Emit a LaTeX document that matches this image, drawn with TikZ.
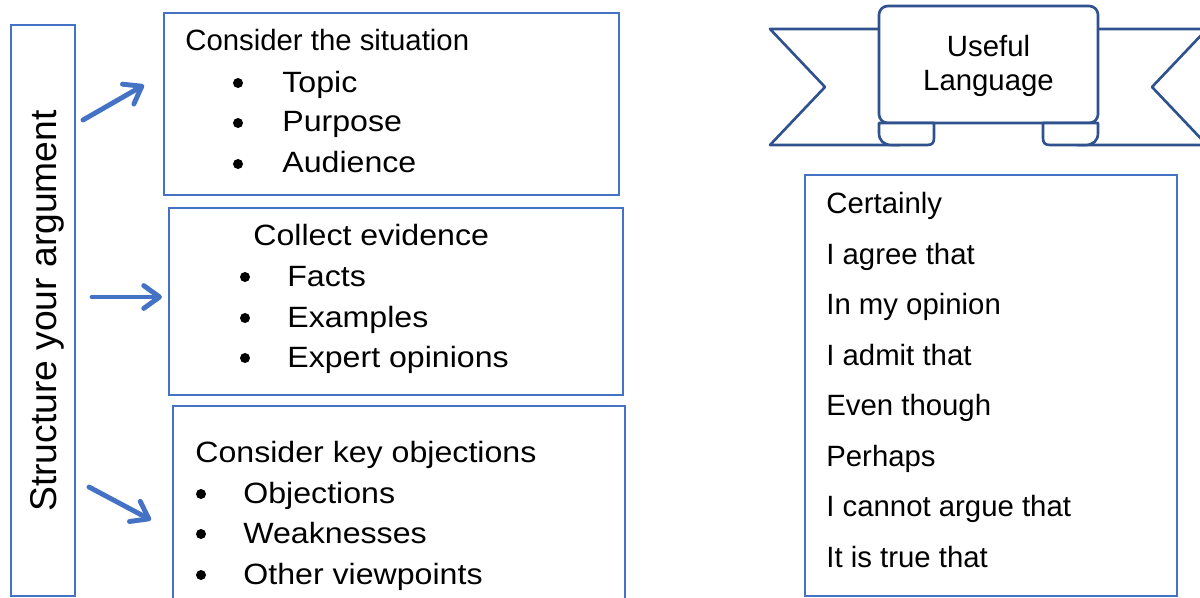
\documentclass[tikz,border=0pt]{standalone}
\usepackage{fontspec}
\setmainfont{Liberation Sans}
\newfontfamily\widesans[FakeStretch=1.095]{Liberation Sans}
\usetikzlibrary{arrows.meta,fit}
\definecolor{boxblue}{HTML}{4472C4}
\definecolor{ribbonblue}{HTML}{2F528F}
\tikzset{%
  >={Straight Barb[length=9pt,width=13pt,round]},
  % Specifications for style of nodes:
           txt/.style = {inner sep=0pt, font=\fontsize{16.7}{20}\selectfont},
      itemline/.style = {txt, anchor=base west},
      wideline/.style = {itemline, font=\widesans\fontsize{16.7}{20}\selectfont},
     bulletdot/.style = {circle, fill=black, inner sep=0pt, minimum size=0.2cm},
       listbox/.style = {rectangle, draw=boxblue, line width=0.9pt, inner sep=0pt},
        ribbon/.style = {draw=ribbonblue, line width=1.5pt, line join=round, fill=white},
       pointer/.style = {->, draw=boxblue, line width=2.8pt, line cap=round},
}

\begin{document}
\begin{tikzpicture}[x=0.02cm, y=-0.02cm]
  \useasboundingbox (0,0) rectangle (1200,598);

  % Specification of boxes (position, etc.)
  \node (leftbox)   [listbox, fit={(11,25) (75,596)}] {};
  \node (sitbox)    [listbox, fit={(164,13) (619,195)}] {};
  \node (evbox)     [listbox, fit={(169,208) (623,395)}] {};
  \node (objbox)    [listbox, fit={(173,406) (625,640)}] {};
  \node (langbox)   [listbox, fit={(805,175) (1177,596)}] {};

  \node (structure) [txt, anchor=base, rotate=90, font=\fontsize{21.2}{25}\selectfont]
                    at (56,311) {Structure your argument};

  % first box: the situation
  \node (sithead)   [itemline] at (185,51) {Consider the situation};
  \node (sitdot1)   [bulletdot] at (238,83)  {};
  \node (sitdot2)   [bulletdot] at (238,123) {};
  \node (sitdot3)   [bulletdot] at (238,164) {};
  \node (topic)     [wideline] at (282,92)  {Topic};
  \node (purpose)   [wideline] at (282,132) {Purpose};
  \node (audience)  [wideline] at (282,173) {Audience};

  % second box: evidence
  \node (evhead)    [wideline] at (253,245) {Collect evidence};
  \node (evdot1)    [bulletdot] at (245,277) {};
  \node (evdot2)    [bulletdot] at (245,318) {};
  \node (evdot3)    [bulletdot] at (245,358) {};
  \node (facts)     [wideline] at (287,286) {Facts};
  \node (examples)  [wideline] at (287,327) {Examples};
  \node (expert)    [wideline] at (287,367) {Expert opinions};

  % third box: objections
  \node (objhead)   [wideline] at (195,462) {Consider key objections};
  \node (objdot1)   [bulletdot] at (201,494) {};
  \node (objdot2)   [bulletdot] at (201,534) {};
  \node (objdot3)   [bulletdot] at (201,575) {};
  \node (objections)[wideline] at (243,503) {Objections};
  \node (weak)      [wideline] at (243,543) {Weaknesses};
  \node (viewpoints)[wideline] at (243,584) {Other viewpoints};

  % arrows out of the side box
  \coordinate (sitfrom) at (83,120);
  \coordinate (sitto)   at (144,85);
  \coordinate (evfrom)  at (92,297);
  \coordinate (evto)    at (162,297);
  \coordinate (objfrom) at (89,487);
  \coordinate (objto)   at (151,520);
  \draw[pointer]    (sitfrom) -- (sitto);
  \draw[pointer]    (evfrom) -- (evto);
  \draw[pointer]    (objfrom) -- (objto);

  % banner: tails, panel, curls
  \draw[ribbon]     (900,29) -- (770,29) -- (825,87) -- (770,145) -- (900,145) -- cycle;
  \draw[ribbon]     (1077,29) -- (1207,29) -- (1152,87) -- (1207,145) -- (1077,145) -- cycle;
  \draw[ribbon, rounded corners=5pt]
                    (879,123) -- (879,6) -- (1098,6) -- (1098,123) -- cycle;
  \draw[ribbon]     (934,123) -- (879,123) -- (879,133) .. controls (879,141) and (884,145) .. (892,145)
                    -- (927,145) .. controls (932,145) and (934,143) .. (934,138) -- cycle;
  \draw[ribbon]     (1043,123) -- (1098,123) -- (1098,133) .. controls (1098,141) and (1093,145) .. (1085,145)
                    -- (1050,145) .. controls (1045,145) and (1043,143) .. (1043,138) -- cycle;
  \node (useful)    [txt, anchor=base] at (988.5,57) {Useful};
  \node (language)  [txt, anchor=base] at (988.5,91) {Language};

  % useful language list
  \node (certainly) [itemline] at (826,213) {Certainly};
  \node (agree)     [itemline] at (826,264) {I agree that};
  \node (opinion)   [itemline] at (826,314) {In my opinion};
  \node (admit)     [itemline] at (826,365) {I admit that};
  \node (eventhough)[itemline] at (826,415) {Even though};
  \node (perhaps)   [itemline] at (826,466) {Perhaps};
  \node (cannot)    [itemline] at (826,516) {I cannot argue that};
  \node (true)      [itemline] at (826,567) {It is true that};
\end{tikzpicture}
\end{document}
